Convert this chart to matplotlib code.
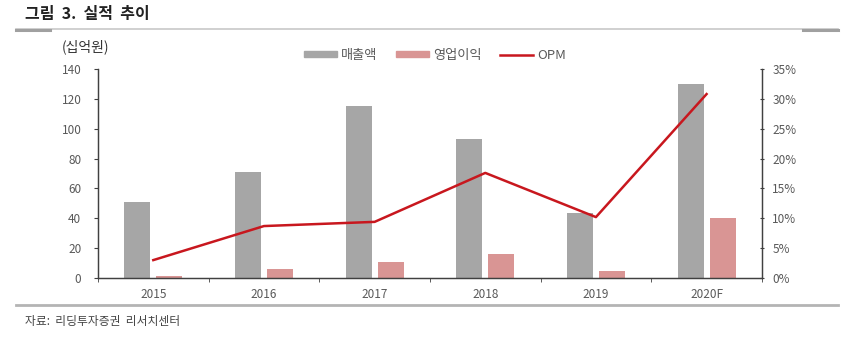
import matplotlib
matplotlib.use('Agg')
import matplotlib.pyplot as plt
from matplotlib.lines import Line2D
import numpy as np

plt.rcParams['font.family'] = ['Noto Sans CJK KR', 'DejaVu Sans']

years = ['2015', '2016', '2017', '2018', '2019', '2020F']
sales = [51, 71, 115, 93, 43.5, 130]        # 매출액 (십억원)
op_income = [1.3, 6, 10.7, 16, 4.7, 40]      # 영업이익 (십억원)
opm = [3.0, 8.7, 9.4, 17.6, 10.2, 30.8]      # OPM (%)

gray = '#A6A6A6'
pink = '#D99594'
red = '#C8171E'
txt = '#595959'

fig = plt.figure(figsize=(8.58, 3.46), dpi=100)
ax = fig.add_axes([0.1142, 0.1965, 0.7738, 0.6041])
ax2 = ax.twinx()

x = np.arange(len(years))
w = 0.235
ax.bar(x - 0.145, sales, w, color=gray, label='매출액', zorder=2)
ax.bar(x + 0.145, op_income, w, color=pink, label='영업이익', zorder=2)
ax2.plot(x, opm, color=red, lw=1.8, label='OPM', zorder=3)

ax.set_xlim(-0.5, len(years) - 0.5)
ax.set_ylim(0, 140)
ax.set_yticks(range(0, 141, 20))
ax2.set_ylim(0, 35)
ax2.set_yticks(range(0, 36, 5))
ax2.set_yticklabels([f'{v}%' for v in range(0, 36, 5)])

# category labels at centres, tick marks at boundaries
ax.set_xticks(x)
ax.set_xticklabels(years)
ax.set_xticks(np.arange(-0.5, len(years)), minor=True)
ax.tick_params(axis='x', which='major', length=0, pad=7, labelsize=8.5, labelcolor=txt)
ax.tick_params(axis='x', which='minor', length=3, direction='out', color='#404040')
ax.tick_params(axis='y', length=3, labelsize=8.5, labelcolor=txt, color='#404040', pad=9)
ax2.tick_params(axis='y', length=3, labelsize=8.5, labelcolor=txt, color='#404040',
                direction='inout', pad=6)

for a in (ax, ax2):
    a.spines['top'].set_visible(False)
    for s in ('left', 'right', 'bottom'):
        a.spines[s].set_color('#404040')
        a.spines[s].set_linewidth(0.9)

handles = [plt.Rectangle((0, 0), 1, 1, color=gray),
           plt.Rectangle((0, 0), 1, 1, color=pink),
           Line2D([0], [0], color=red, lw=1.8)]
leg = fig.legend(handles, ['매출액', '영업이익', 'OPM'], loc='center',
                 bbox_to_anchor=(0.507, 0.84), ncol=3, frameon=False,
                 fontsize=9.5, handlelength=2.5, handleheight=0.4,
                 columnspacing=1.4, handletextpad=0.3)
for t in leg.get_texts():
    t.set_color(txt)

fig.text(0.072, 0.865, '(십억원)', fontsize=10, color='#333333', va='center')

# title and rules
fig.text(0.029, 0.960, '그림  3.  실적  추이', fontsize=11.5, fontweight='bold',
         color='#222222', va='center')
fig.add_artist(Line2D([0.019, 0.977], [0.916, 0.916], color='#C8C8C8', lw=1.2))
fig.add_artist(Line2D([0.019, 0.058], [0.914, 0.914], color='#A0A0A0', lw=2.2))
fig.add_artist(Line2D([0.936, 0.977], [0.914, 0.914], color='#A0A0A0', lw=2.2))
fig.add_artist(Line2D([0.019, 0.977], [0.118, 0.118], color='#B4B4B4', lw=2))

fig.text(0.029, 0.07, '자료:  리딩투자증권  리서치센터', fontsize=8.5, color='#444444',
         va='center')

fig.savefig('out.png', dpi=100)
